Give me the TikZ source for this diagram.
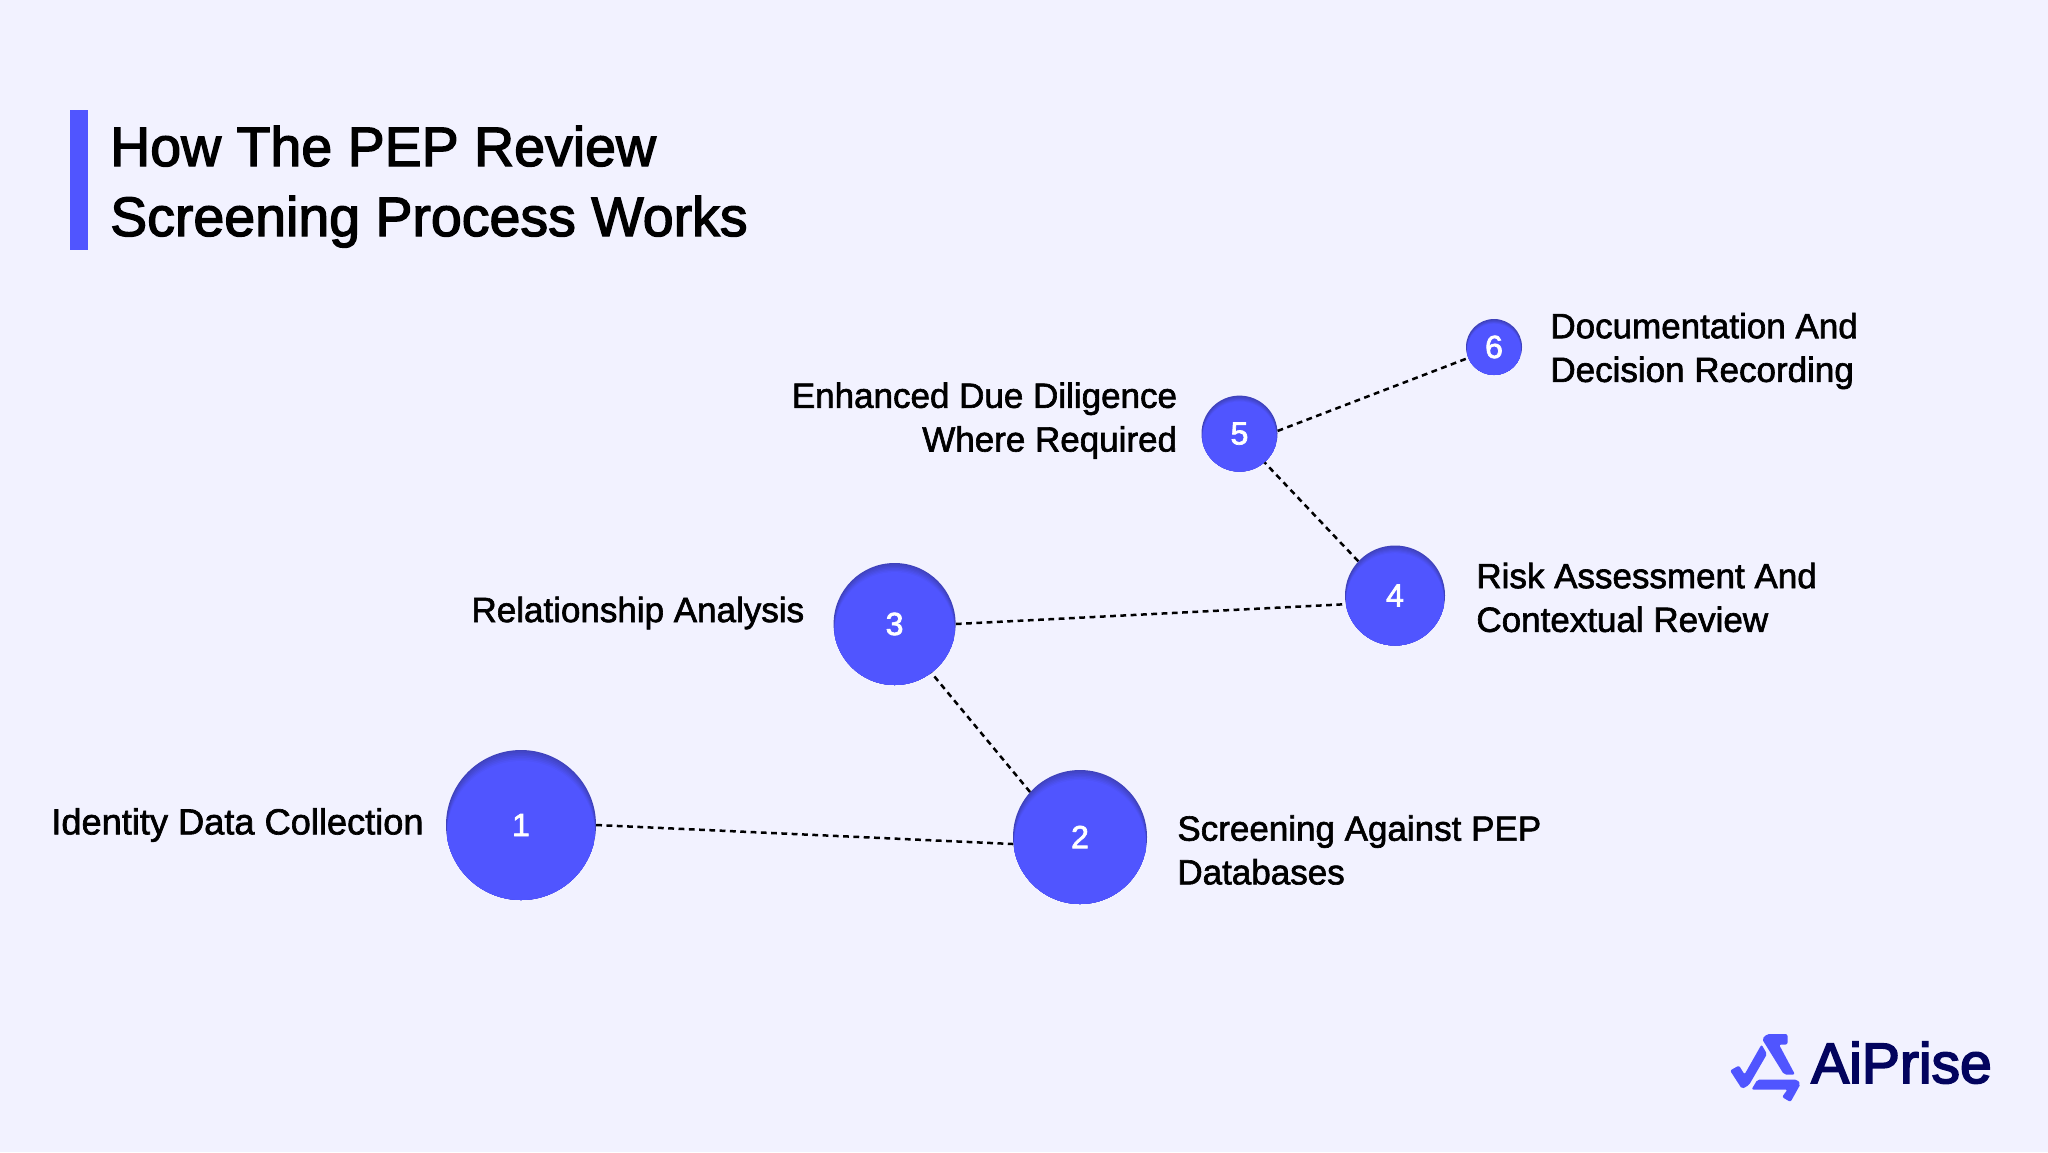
\documentclass[tikz,border=0pt]{standalone}
\usepackage{fontspec}
\usepackage{xcolor}
\usepackage{tikz}
\usetikzlibrary{positioning}
\setmainfont{Liberation Sans}[FakeBold=1.8]
\newfontfamily\numfont{Liberation Sans}[FakeBold=2.2]
\newfontfamily\headfont{Liberation Sans}[FakeBold=2.4]
\newfontfamily\logofont{Liberation Sans}[FakeBold=3]
\definecolor{bgpage}{HTML}{F2F2FF}
\definecolor{dotblue}{HTML}{5055FF}
\definecolor{dotdark}{HTML}{3F42BC}
\definecolor{logonavy}{HTML}{03045E}
\tikzstyle{stepdot} = [circle, minimum size=#1, inner sep=0pt, fill=dotdark, text=white,
    font=\numfont\fontsize{32}{32}\selectfont,
    path picture={\foreach \k/\c in {0/15,1/30,2/45,3/60,4/75,5/90,6/100}{
        \fill[dotblue!\c!dotdark] ([yshift=-\k*#1/90]path picture bounding box.center) circle (#1/2-1pt);}}]
\tikzstyle{steptext} = [inner sep=0pt, font=\fontsize{35}{43.7}\selectfont]
\tikzstyle{dotline} = [draw=black, line width=2.5pt, dash pattern=on 5.8pt off 4.5pt]
\tikzstyle{logopart} = [fill=dotblue, rounded corners=2pt]
\begin{document}
\begin{tikzpicture}[x=1pt, y=-1pt]
    \useasboundingbox (0,0) rectangle (2048,1152);
    \fill[bgpage] (0,0) rectangle (2048,1152);

    % title
    \fill[dotblue] (70,110) rectangle (88,250);
    \node (title) [anchor=base west, inner sep=0pt, align=left, font=\headfont\fontsize{55.5}{70}\selectfont] at (110,236)
        {How The PEP Review\\Screening Process Works};

    % steps
    \node (n1) [stepdot=150pt] at (521,825) {1};
    \node (n2) [stepdot=134pt] at (1080,837) {2};
    \node (n3) [stepdot=122pt] at (894.6,624) {3};
    \node (n4) [stepdot=100pt] at (1395,595.5) {4};
    \node (n5) [stepdot=76pt] at (1239.5,433.6) {5};
    \node (n6) [stepdot=56pt] at (1494,347) {6};

    \node (t1) [steptext, font=\fontsize{36.2}{43.7}\selectfont, left=22pt of n1, yshift=0pt] {Identity Data Collection};
    \node (t2) [steptext, align=left, right=30pt of n2, yshift=-13pt] {Screening Against PEP\\Databases};
    \node (t3) [steptext, left=29pt of n3, yshift=11pt] {Relationship Analysis};
    \node (t4) [steptext, align=left, right=31pt of n4, yshift=-2pt] {Risk Assessment And\\Contextual Review};
    \node (t5) [steptext, align=right, left=24pt of n5, yshift=13pt] {Enhanced Due Diligence\\Where Required};
    \node (t6) [steptext, align=left, right=28pt of n6, yshift=-4pt] {Documentation And\\Decision Recording};

    \draw [dotline] (n1.east) -- (n2.186);
    \draw [dotline] (n2.138) -- (n3.-53);
    \draw [dotline] (n3.east) -- (n4.190.5);
    \draw [dotline] (n4.137) -- (n5.-49);
    \draw [dotline] (n5.4) -- (n6.203);

    % logo
    \fill[logopart] (1787.5,1034) -- (1767,1034) -- (1762,1039) -- (1784,1074.5) -- (1795,1074.5) -- (1779,1044.5) -- (1787.5,1044.5) -- cycle;
    \fill[logopart] (1730,1070.5) -- (1739,1065.5) -- (1744.5,1074.5) -- (1761.5,1044.5) -- (1767,1054) -- (1749,1085) -- (1742,1089) -- cycle;
    \fill[logopart] (1757.5,1079.5) -- (1797,1079.5) -- (1800.5,1084) -- (1790.5,1102) -- (1782,1097) -- (1787.5,1089.5) -- (1751.5,1089.5) -- cycle;
    \node (logo) [anchor=base west, inner sep=0pt, text=logonavy, font=\logofont\fontsize{57}{57}\selectfont] at (1811,1083) {AiPrise};
\end{tikzpicture}
\end{document}
